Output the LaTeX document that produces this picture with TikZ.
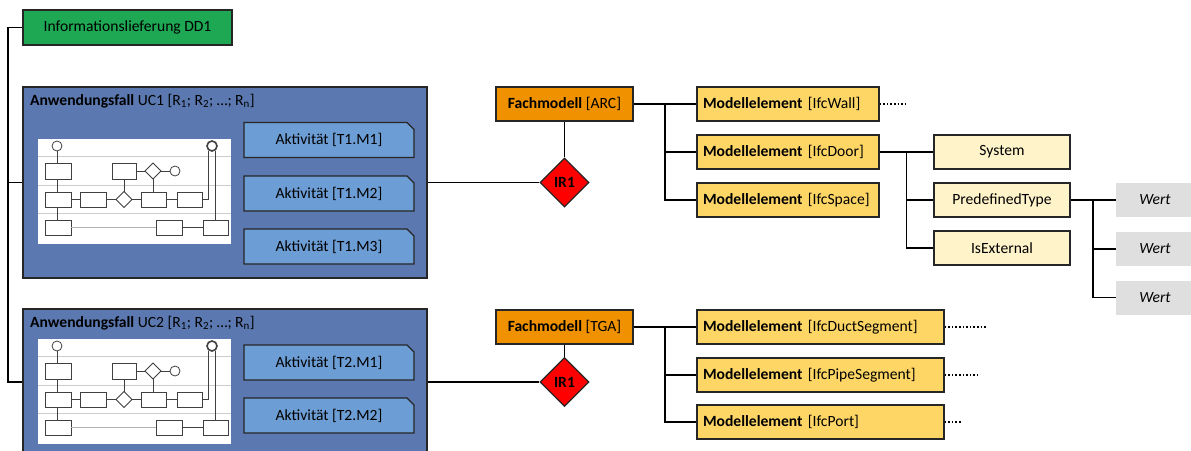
\documentclass[tikz,border=0pt]{standalone}
\usepackage{fontspec}
\setmainfont{Carlito}
\usepackage{tikz}
\usetikzlibrary{shapes.geometric,shapes.misc,positioning,calc}

\definecolor{ddgreen}{RGB}{30,168,84}
\definecolor{ucblue}{RGB}{91,121,176}
\definecolor{actblue}{RGB}{108,157,212}
\definecolor{fmorange}{RGB}{240,146,0}
\definecolor{elyellow}{RGB}{254,214,102}
\definecolor{attyellow}{RGB}{255,243,202}
\definecolor{wertgray}{RGB}{223,223,223}

\begin{document}
\begin{tikzpicture}[x=1pt,y=-1pt,
    every node/.style={font=\fontsize{15.6}{19}\selectfont},
    box/.style={draw=black!85, line width=1.3pt, inner sep=0pt, minimum height=34},
    infobox/.style={box, fill=ddgreen, minimum width=209, minimum height=35},
    ucbox/.style={draw=black!85, line width=1.3pt, fill=ucblue, inner sep=0pt},
    actbox/.style={draw=black!85, line width=1.3pt, fill=actblue, chamfered rectangle,
        chamfered rectangle corners=north east, chamfered rectangle xsep=3pt,
        chamfered rectangle ysep=4pt, inner sep=0pt, minimum width=170, minimum height=35},
    fmbox/.style={box, fill=fmorange, minimum width=137},
    elbox/.style={box, fill=elyellow, inner xsep=6pt, align=left},
    attbox/.style={box, fill=attyellow, minimum width=136},
    wertbox/.style={fill=wertgray, inner sep=0pt, minimum width=78, minimum height=34, font=\fontsize{15.6}{19}\selectfont\itshape},
    irnode/.style={diamond, draw=black!85, line width=1.3pt, fill=red, inner sep=0pt,
        minimum width=49, minimum height=49, font=\fontsize{15.6}{19}\selectfont\bfseries},
    conn/.style={line width=1.8pt, black},
    flow/.style={line width=0.8pt, black!75},
    lane/.style={line width=0.8pt, black!20}
]
    \useasboundingbox (0,0) rectangle (1191,450);

    % Informationslieferung
    \node[infobox] (dd1) at (127.5,27.5) {Informationslieferung DD1};

    % Anwendungsfaelle
    \node[ucbox, minimum width=404, minimum height=191] (uc1) at (225,182.5) {};
    \node[ucbox, minimum width=404, minimum height=146] (uc2) at (225,382) {};
    \node[anchor=west, inner sep=0pt] (uc1title) at (30,101) {\textbf{Anwendungsfall} UC1 [R\textsubscript{1}; R\textsubscript{2}; …; R\textsubscript{n}]};
    \node[anchor=west, inner sep=0pt] (uc2title) at (30,323) {\textbf{Anwendungsfall} UC2 [R\textsubscript{1}; R\textsubscript{2}; …; R\textsubscript{n}]};

    % process sketches
    \foreach \oy in {0,200} {
    \begin{scope}[shift={(0,\oy)}]
        \fill[white] (38,139) rectangle (231,244);
        \foreach \ly in {156,185,213}
            \draw[lane] (38,\ly) -- (231,\ly);
        \draw[flow] (57,146) circle (5);
        \draw[flow, line width=1.6pt] (212,146) circle (5);
        \draw[flow] (45,163) rectangle (71,179);
        \draw[flow] (112,163) rectangle (136,179);
        \draw[flow] (153,163) -- (161,171) -- (153,179) -- (145,171) -- cycle;
        \draw[flow] (175,171) circle (5);
        \draw[flow] (45,192) rectangle (71,207);
        \draw[flow] (80,192) rectangle (106,207);
        \draw[flow] (124,191.5) -- (132,199.5) -- (124,207.5) -- (116,199.5) -- cycle;
        \draw[flow] (141,192) rectangle (166,207);
        \draw[flow] (177,192) rectangle (202,207);
        \draw[flow] (45,220) rectangle (71,235);
        \draw[flow] (156,220) rectangle (182,235);
        \draw[flow] (203,220) rectangle (228,235);
        \draw[flow] (57,151) -- (57,163) (57,179) -- (57,192) (57,207) -- (57,220);
        \draw[flow] (71,199.5) -- (80,199.5) (106,199.5) -- (116,199.5)
            (132,199.5) -- (141,199.5) (166,199.5) -- (177,199.5);
        \draw[flow] (124,179) -- (124,191.5);
        \draw[flow] (136,171) -- (145,171) (161,171) -- (170,171);
        \draw[flow] (153,179) -- (153,192);
        \draw[flow] (202,199.5) -| (208,151);
        \draw[flow] (215,220) -- (215,151);
        \draw[lane, black!30] (71,227.5) -- (156,227.5);
        \draw[flow] (182,227.5) -- (203,227.5);
    \end{scope}
    }

    % Aktivitaeten
    \node[actbox] (act11) at (329,140) {Aktivität [T1.M1]};
    \node[actbox] (act12) at (329,193.5) {Aktivität [T1.M2]};
    \node[actbox] (act13) at (329,246.5) {Aktivität [T1.M3]};
    \node[actbox] (act21) at (329,362.5) {Aktivität [T2.M1]};
    \node[actbox] (act22) at (329,415.5) {Aktivität [T2.M2]};

    % Fachmodelle and requirements
    \node[fmbox] (fmarc) at (564.5,104) {\textbf{Fachmodell} [ARC]};
    \node[fmbox] (fmtga) at (564.5,327) {\textbf{Fachmodell} [TGA]};
    \node[irnode] (ir1) at (564.5,182.5) {IR1};
    \node[irnode] (ir2) at (564.5,382) {IR1};

    % Modellelemente
    \node[elbox, text width=170] (wall) at (788,104) {\mbox{\textbf{Modellelement} [IfcWall]}};
    \node[elbox, text width=170] (door) at (788,152) {\mbox{\textbf{Modellelement} [IfcDoor]}};
    \node[elbox, text width=170] (space) at (788,200) {\mbox{\textbf{Modellelement} [IfcSpace]}};
    \node[elbox, text width=235] (duct) at (820.5,327) {\mbox{\textbf{Modellelement} [IfcDuctSegment]}};
    \node[elbox, text width=235] (pipe) at (820.5,375) {\mbox{\textbf{Modellelement} [IfcPipeSegment]}};
    \node[elbox, text width=235] (port) at (820.5,422) {\mbox{\textbf{Modellelement} [IfcPort]}};

    % Attribute and values
    \node[attbox] (sys) at (1002,152) {System};
    \node[attbox] (ptype) at (1002,200) {PredefinedType};
    \node[attbox] (isext) at (1002,248) {IsExternal};
    \node[wertbox] (wert1) at (1155,200) {Wert};
    \node[wertbox] (wert2) at (1155,249) {Wert};
    \node[wertbox] (wert3) at (1155,297.5) {Wert};

    % Connectors
    \draw[conn] (dd1.west) -- ++(-14,0) coordinate (spine) |- (uc1.west);
    \draw[conn] (spine) |- (uc2.west);
    \draw[conn] (uc1.east) -- (ir1.west);
    \draw[conn] (uc2.east) -- (ir2.west);
    \draw[conn] (fmarc.south) -- (ir1.north);
    \draw[conn] (fmtga.south) -- (ir2.north);

    \draw[conn] (fmarc.east) -- (wall.west);
    \coordinate (arcfork) at ($(fmarc.east)!0.5!(wall.west)$);
    \draw[conn] (arcfork) |- (door.west);
    \draw[conn] (arcfork) |- (space.west);

    \draw[conn] (fmtga.east) -- (duct.west);
    \coordinate (tgafork) at ($(fmtga.east)!0.5!(duct.west)$);
    \draw[conn] (tgafork) |- (pipe.west);
    \draw[conn] (tgafork) |- (port.west);

    \draw[conn] (door.east) -- (sys.west);
    \coordinate (doorfork) at ($(door.east)!0.5!(sys.west)$);
    \draw[conn] (doorfork) |- (ptype.west);
    \draw[conn] (doorfork) |- (isext.west);

    \draw[conn] (ptype.east) -- (wert1.west);
    \coordinate (typefork) at ($(ptype.east)!0.5!(wert1.west)$);
    \draw[conn] (typefork) |- (wert2.west);
    \draw[conn] (typefork) |- (wert3.west);

    % more elements
    \draw[line width=1.6pt, dotted] (wall.east) -- ++(26,0) coordinate (wallmore);
    \draw[line width=1.6pt, dotted] (duct.east) -- ++(43,0) coordinate (ductmore);
    \draw[line width=1.6pt, dotted] (pipe.east) -- ++(33,0) coordinate (pipemore);
    \draw[line width=1.6pt, dotted] (port.east) -- ++(16,0) coordinate (portmore);
\end{tikzpicture}
\end{document}
